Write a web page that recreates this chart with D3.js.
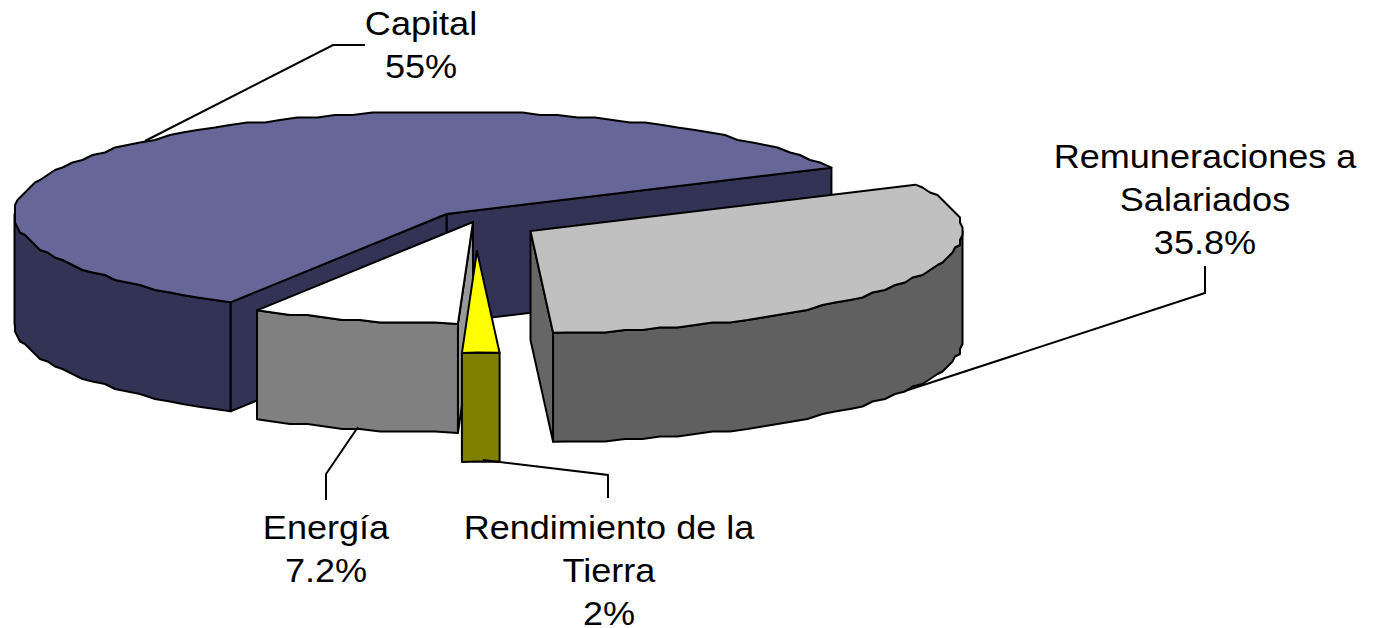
<!DOCTYPE html>
<html lang="es">
<head>
<meta charset="utf-8">
<title>Capital, Remuneraciones, Energía, Tierra</title>
<script src="https://cdn.jsdelivr.net/npm/d3@7"></script>
<style>
  html, body { margin: 0; padding: 0; background: #fff; }
  svg { display: block; }
  text { font-family: "Liberation Sans", Arial, sans-serif; font-size: 32.5px; fill: #000; }
</style>
</head>
<body>
<div id="chart"></div>
<script>
// Values (pie order, clockwise from the back right)
const categories = ["Remuneraciones a Salariados", "Rendimiento de la Tierra", "Energía", "Capital"];
const shares = [35.8, 2, 7.2, 55];
const valueLabels = ["35.8%", "2%", "7.2%", "55%"];
const labelLines = [
    ["Remuneraciones a", "Salariados"],
    ["Rendimiento de la", "Tierra"],
    ["Energía"],
    ["Capital"]
];

const topColors = ["#C0C0C0", "#FFFF00", "#FFFFFF", "#666699"];
const wallColors = ["#606060", "#808000", "#808080", "#333355"];
const faceColors = ["#666666", "#808000", "#999999", "#333355"];

const width = 1374, height = 628;
const rx = 432, ry = 102, depth = 109;

// exploded centre of every slice
const centers = [[530.5, 231], [477, 251], [473, 222], [446.5, 214]];

// the chart is drawn with perspective, so pie angles do not map 1:1 to the ellipse
const boundaryDegrees = [-27, 87, 92, 120, 333];

const labelX = [1205, 609, 326, 421];
const labelY = [168, 539, 539, 35];
const lineGap = 43;
const labelStretch = 1.11; // the original text is wider than Arial at this height
const leaders = [
    [[905, 391], [1205, 293], [1205, 266]],
    [[483, 460], [608, 475], [608, 498]],
    [[358, 427], [326, 474], [326, 500]],
    [[145, 141], [333, 45], [365, 45]]
];

const svg = d3.select("#chart").append("svg")
    .attr("width", width)
    .attr("height", height)
    .attr("viewBox", `0 0 ${width} ${height}`);

const arcs = d3.pie().sort(null).value(d => d)(shares);
const pieEdges = [0].concat(arcs.map(a => a.endAngle));
const angleScale = d3.scaleLinear().domain(pieEdges).range(boundaryDegrees);

const line = d3.line().curve(d3.curveLinear);

// ellipse point of one slice, in screen space
function rim(i, deg) {
    const t = deg * Math.PI / 180;
    const x = d3.scaleLinear().domain([-1, 1]).range([centers[i][0] - rx, centers[i][0] + rx]);
    const y = d3.scaleLinear().domain([-1, 1]).range([centers[i][1] - ry, centers[i][1] + ry]);
    return [x(Math.cos(t)), y(Math.sin(t))];
}

// rim as a coarse polyline, snapped to a grid like the low-res original outline
function rimPoints(i, from, to) {
    const step = 2.5, grid = 2.5;
    const pts = [rim(i, from)];
    for (let d = Math.ceil(from / step) * step; d < to; d += step) {
        if (d - from < step / 2 || to - d < step / 2) continue;
        const p = rim(i, d);
        pts.push([Math.round(p[0] / grid) * grid, Math.round(p[1] / grid) * grid]);
    }
    pts.push(rim(i, to));
    return pts;
}

const down = p => [p[0], p[1] + depth];

function shape(pts, fill) {
    svg.append("path")
        .attr("d", line(pts) + "Z")
        .attr("fill", fill)
        .attr("stroke", "#000")
        .attr("stroke-width", 2)
        .attr("stroke-linejoin", "round");
}

// cut face between centre and rim point
function face(i, deg) {
    const c = centers[i], p = rim(i, deg);
    shape([c, p, down(p), down(c)], faceColors[i]);
}

// outer wall, only the part that faces the viewer
function wall(i, from, to) {
    const a = Math.max(from, 0), b = Math.min(to, 180);
    if (a >= b) return;
    const pts = rimPoints(i, a, b);
    shape(pts.concat(pts.map(down).reverse()), wallColors[i]);
}

function topFace(i, from, to) {
    shape([centers[i]].concat(rimPoints(i, from, to)), topColors[i]);
}

function slice(i, faces) {
    const from = angleScale(arcs[i].startAngle), to = angleScale(arcs[i].endAngle);
    faces.forEach(f => face(i, f === "start" ? from : to));
    wall(i, from, to);
    topFace(i, from, to);
}

// back to front
slice(3, ["end", "start"]);
slice(0, ["end"]);
slice(2, ["start"]);
slice(1, []);

// leader lines
leaders.forEach(pts => {
    svg.append("path")
        .attr("d", line(pts))
        .attr("fill", "none")
        .attr("stroke", "#000")
        .attr("stroke-width", 2);
});

// labels
categories.forEach((name, i) => {
    labelLines[i].concat(valueLabels[i]).forEach((txt, j) => {
        svg.append("text")
            .attr("text-anchor", "middle")
            .attr("transform", `translate(${labelX[i]},${labelY[i] + j * lineGap}) scale(${labelStretch},1)`)
            .text(txt);
    });
});
</script>
</body>
</html>
